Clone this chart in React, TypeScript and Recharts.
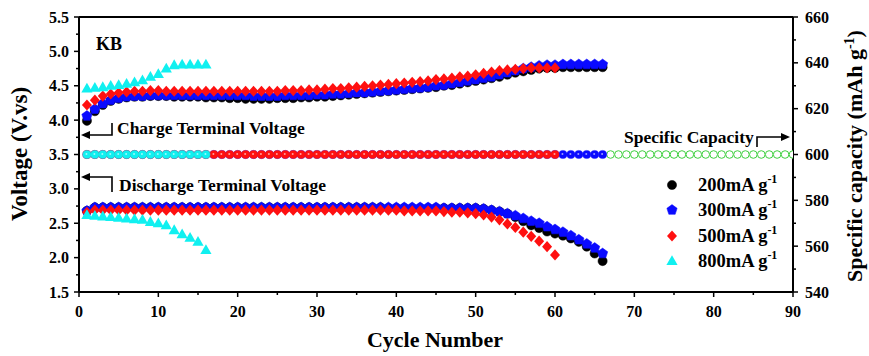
import React from 'react';
import { ScatterChart, Scatter, XAxis, YAxis, ReferenceLine, Customized } from 'recharts';

const FONT = '"Liberation Serif", "Times New Roman", Times, serif';

// ---------- ticks ----------
const xTicks = [0, 5, 10, 15, 20, 25, 30, 35, 40, 45, 50, 55, 60, 65, 70, 75, 80, 85, 90];
const voltTicks = [1.5, 1.75, 2.0, 2.25, 2.5, 2.75, 3.0, 3.25, 3.5, 3.75, 4.0, 4.25, 4.5, 4.75, 5.0, 5.25, 5.5];
const capTicks = [540, 550, 560, 570, 580, 590, 600, 610, 620, 630, 640, 650, 660];

// ---------- legend ----------
const rateLabels = ['200mA g', '300mA g', '500mA g', '800mA g'];
const rateColors = ['#000000', '#0a0aff', '#ff1010', '#10f0f0'];

// ---------- charge terminal voltage (V), cycle 1.. ----------
const charge200 = [
  3.99, 4.13, 4.22, 4.28, 4.31, 4.33, 4.34, 4.34, 4.35, 4.35,
  4.35, 4.34, 4.34, 4.34, 4.34, 4.33, 4.33, 4.33, 4.32, 4.32,
  4.31, 4.31, 4.31, 4.31, 4.32, 4.32, 4.32, 4.33, 4.33, 4.34,
  4.34, 4.35, 4.36, 4.37, 4.38, 4.39, 4.40, 4.41, 4.42, 4.43,
  4.44, 4.45, 4.46, 4.47, 4.48, 4.50, 4.51, 4.53, 4.55, 4.57,
  4.59, 4.61, 4.63, 4.66, 4.69, 4.71, 4.73, 4.75, 4.76, 4.76,
  4.77, 4.77, 4.77, 4.77, 4.77, 4.77,
];
const charge300 = [
  4.06, 4.16, 4.24, 4.29, 4.32, 4.34, 4.35, 4.35, 4.36, 4.36,
  4.36, 4.36, 4.36, 4.36, 4.36, 4.36, 4.36, 4.36, 4.36, 4.36,
  4.36, 4.35, 4.35, 4.35, 4.35, 4.36, 4.36, 4.36, 4.36, 4.37,
  4.37, 4.38, 4.38, 4.39, 4.40, 4.40, 4.41, 4.42, 4.43, 4.44,
  4.45, 4.46, 4.47, 4.48, 4.50, 4.51, 4.53, 4.55, 4.57, 4.59,
  4.61, 4.63, 4.66, 4.69, 4.72, 4.75, 4.77, 4.79, 4.80, 4.80,
  4.81, 4.81, 4.81, 4.81, 4.81, 4.81,
];
const charge500 = [
  4.22, 4.29, 4.35, 4.38, 4.40, 4.41, 4.42, 4.42, 4.43, 4.43,
  4.42, 4.42, 4.42, 4.42, 4.42, 4.42, 4.42, 4.42, 4.42, 4.42,
  4.42, 4.42, 4.42, 4.42, 4.42, 4.43, 4.43, 4.43, 4.44, 4.44,
  4.45, 4.46, 4.46, 4.47, 4.48, 4.49, 4.50, 4.51, 4.52, 4.53,
  4.54, 4.55, 4.56, 4.57, 4.59, 4.60, 4.61, 4.63, 4.64, 4.66,
  4.68, 4.70, 4.72, 4.73, 4.74, 4.75, 4.76, 4.76, 4.76, 4.76,
];
const charge800 = [
  4.46, 4.47, 4.48, 4.50, 4.51, 4.53, 4.55, 4.58, 4.63, 4.67,
  4.75, 4.80, 4.81, 4.81, 4.81, 4.81,
];

// ---------- discharge terminal voltage (V) ----------
const discharge200 = [
  2.68, 2.73, 2.73, 2.73, 2.73, 2.73, 2.73, 2.73, 2.73, 2.73,
  2.73, 2.73, 2.73, 2.73, 2.73, 2.73, 2.73, 2.73, 2.73, 2.73,
  2.73, 2.73, 2.73, 2.73, 2.73, 2.73, 2.73, 2.73, 2.73, 2.73,
  2.73, 2.73, 2.73, 2.73, 2.73, 2.73, 2.73, 2.73, 2.72, 2.72,
  2.72, 2.72, 2.72, 2.72, 2.72, 2.72, 2.72, 2.72, 2.72, 2.72,
  2.71, 2.69, 2.67, 2.64, 2.59, 2.53, 2.47, 2.43, 2.38, 2.35,
  2.32, 2.28, 2.23, 2.16, 2.06, 1.95,
];
const discharge300 = [
  2.68, 2.73, 2.73, 2.73, 2.73, 2.73, 2.73, 2.73, 2.73, 2.73,
  2.73, 2.73, 2.73, 2.73, 2.73, 2.73, 2.73, 2.73, 2.73, 2.73,
  2.73, 2.73, 2.73, 2.73, 2.73, 2.73, 2.73, 2.73, 2.73, 2.73,
  2.73, 2.73, 2.73, 2.73, 2.73, 2.73, 2.73, 2.73, 2.73, 2.73,
  2.73, 2.73, 2.73, 2.73, 2.73, 2.72, 2.72, 2.72, 2.72, 2.72,
  2.71, 2.69, 2.67, 2.64, 2.61, 2.57, 2.53, 2.50, 2.45, 2.41,
  2.37, 2.32, 2.26, 2.20, 2.14, 2.06,
];
const discharge500 = [
  2.66, 2.69, 2.69, 2.69, 2.69, 2.69, 2.69, 2.69, 2.69, 2.69,
  2.69, 2.69, 2.69, 2.69, 2.69, 2.69, 2.69, 2.69, 2.69, 2.69,
  2.69, 2.69, 2.69, 2.69, 2.69, 2.69, 2.69, 2.69, 2.69, 2.69,
  2.69, 2.69, 2.69, 2.69, 2.69, 2.69, 2.69, 2.69, 2.69, 2.69,
  2.68, 2.68, 2.68, 2.68, 2.68, 2.67, 2.66, 2.66, 2.65, 2.64,
  2.62, 2.59, 2.55, 2.49, 2.44, 2.37, 2.31, 2.24, 2.16, 2.04,
];
const discharge800 = [
  2.62, 2.61, 2.60, 2.59, 2.58, 2.57, 2.56, 2.55, 2.52, 2.50,
  2.47, 2.40, 2.34, 2.29, 2.23, 2.11,
];

// ---------- specific capacity (mAh g-1) ----------
const capacity300 = [
  600, 600, 600, 600, 600, 600, 600, 600, 600, 600, 600, 600, 600, 600, 600, 600, 600, 600, 600, 600, 600, 600,
  600, 600, 600, 600, 600, 600, 600, 600, 600, 600, 600, 600, 600, 600, 600, 600, 600, 600, 600, 600, 600, 600,
  600, 600, 600, 600, 600, 600, 600, 600, 600, 600, 600, 600, 600, 600, 600, 600, 600, 600, 600, 600, 600, 600,
];
const capacity500 = [
  600, 600, 600, 600, 600, 600, 600, 600, 600, 600, 600, 600, 600, 600, 600, 600, 600, 600, 600, 600,
  600, 600, 600, 600, 600, 600, 600, 600, 600, 600, 600, 600, 600, 600, 600, 600, 600, 600, 600, 600,
  600, 600, 600, 600, 600, 600, 600, 600, 600, 600, 600, 600, 600, 600, 600, 600, 600, 600, 600, 600,
];
const capacity800 = [600, 600, 600, 600, 600, 600, 600, 600, 600, 600, 600, 600, 600, 600, 600, 600];
const capacityTail = [600, 600, 600, 600, 600, 600, 600, 600, 600, 600, 600, 600, 600, 600, 600, 600, 600, 600, 600, 600, 600, 600, 600, 600];
const capacityTailStart = 67;

const toPoints = (vals: number[], start = 1) => vals.map((v, i) => ({ cycle: i + start, value: v }));

// ---------- marker shapes ----------
const Circle = (color: string) => (p: any) => (
  <circle cx={p.cx} cy={p.cy} r={4.6} fill={color} stroke={color} strokeWidth={0.5} />
);
const Pentagon = (color: string) => (p: any) => {
  const r = 5.4;
  const pts = [0, 1, 2, 3, 4]
    .map((k) => {
      const a = (-90 + 72 * k) * (Math.PI / 180);
      return `${p.cx + r * Math.cos(a)},${p.cy + r * Math.sin(a)}`;
    })
    .join(' ');
  return <polygon points={pts} fill={color} stroke={color} strokeWidth={0.5} />;
};
const Diamond = (color: string) => (p: any) => (
  <polygon
    points={`${p.cx},${p.cy - 5.6} ${p.cx + 5},${p.cy} ${p.cx},${p.cy + 5.6} ${p.cx - 5},${p.cy}`}
    fill={color}
  />
);
const Triangle = (color: string) => (p: any) => (
  <polygon
    points={`${p.cx},${p.cy - 5.8} ${p.cx + 5.6},${p.cy + 4} ${p.cx - 5.6},${p.cy + 4}`}
    fill={color}
  />
);
const CapDot = (color: string) => (p: any) => (
  <g>
    <circle cx={p.cx} cy={p.cy} r={4.1} fill={color} stroke={color} strokeWidth={0.4} />
    <circle cx={p.cx - 0.5} cy={p.cy - 0.5} r={1.0} fill="#ffffff" opacity={0.6} />
  </g>
);
const HollowDot = (color: string) => (p: any) => (
  <circle cx={p.cx} cy={p.cy} r={3.8} fill="#ffffff" stroke={color} strokeWidth={1} />
);

// ---------- ticks ----------
const tickText = { fontFamily: FONT, fontWeight: 'bold' as const, fontSize: 16, fill: '#000' };

const XTick = (props: any) => {
  const { x, y, payload } = props;
  const v = payload.value;
  const major = v % 10 === 0;
  return (
    <g>
      <line x1={x} x2={x} y1={y} y2={y + (major ? 5 : 3)} stroke="#000" strokeWidth={1.5} />
      {major && (
        <text x={x} y={y + 25} textAnchor="middle" {...tickText}>
          {v}
        </text>
      )}
    </g>
  );
};

const LeftTick = (props: any) => {
  const { x, y, payload } = props;
  const v = payload.value;
  const major = Math.abs(v * 2 - Math.round(v * 2)) < 1e-6;
  return (
    <g>
      <line x1={x} x2={x - (major ? 5 : 3)} y1={y} y2={y} stroke="#000" strokeWidth={1.5} />
      {major && (
        <text x={x - 10} y={y + 5.5} textAnchor="end" {...tickText}>
          {v.toFixed(1)}
        </text>
      )}
    </g>
  );
};

const RightTick = (props: any) => {
  const { x, y, payload } = props;
  const v = payload.value;
  const major = v % 20 === 0;
  return (
    <g>
      <line x1={x} x2={x + (major ? 5 : 3)} y1={y} y2={y} stroke="#000" strokeWidth={1.5} />
      {major && (
        <text x={x + 12} y={y + 5.5} textAnchor="start" {...tickText}>
          {v}
        </text>
      )}
    </g>
  );
};

// ---------- annotations, titles and legend ----------
const bold = { fontFamily: FONT, fontWeight: 'bold' as const, fill: '#000' };

const Annotations = () => (
  <g>
    <text x={96} y={50} fontSize={18} {...bold}>KB</text>

    {/* Charge terminal voltage */}
    <polyline points="112,123 112,135 89,135" fill="none" stroke="#000" strokeWidth={1.6} />
    <polygon points="81,135 90,131 90,139" fill="#000" />
    <text x={117} y={134} fontSize={17.5} {...bold}>Charge Terminal Voltage</text>

    {/* Discharge terminal voltage */}
    <polyline points="112,192 112,177 89,177" fill="none" stroke="#000" strokeWidth={1.6} />
    <polygon points="81,177 90,173 90,181" fill="#000" />
    <text x={119} y={191} fontSize={17.5} {...bold}>Discharge Terminal Voltage</text>

    {/* Specific capacity */}
    <text x={624} y={143} fontSize={17.5} {...bold}>Specific Capacity</text>
    <polyline points="757,147 757,137 782,137" fill="none" stroke="#000" strokeWidth={1.6} />
    <polygon points="790,137 781,133 781,141" fill="#000" />

    {/* Axis titles */}
    <text x={435} y={347} textAnchor="middle" fontSize={22} {...bold}>Cycle Number</text>
    <text x={27} y={154} textAnchor="middle" fontSize={23} transform="rotate(-90, 27, 154)" {...bold}>
      Voltage (V.vs)
    </text>
    <text x={862} y={156} textAnchor="middle" fontSize={22} transform="rotate(-90, 862, 156)" {...bold}>
      Specific capacity (mAh g<tspan dy={-8} fontSize={14}>-1</tspan><tspan dy={8}>)</tspan>
    </text>

    {/* Legend */}
    {rateLabels.map((lab, i) => {
      const cy = [185, 210, 236, 261][i];
      const cx = 672;
      const c = rateColors[i];
      const marker =
        i === 0 ? Circle(c)({ cx, cy }) : i === 1 ? Pentagon(c)({ cx, cy }) : i === 2 ? Diamond(c)({ cx, cy }) : Triangle(c)({ cx, cy });
      return (
        <g key={lab}>
          {marker}
          <text x={698} y={cy + 6} fontSize={18.5} {...bold}>
            {lab}
            <tspan dy={-8} fontSize={12}>-1</tspan>
          </text>
        </g>
      );
    })}
  </g>
);

export default function App() {
  return (
    <div style={{ position: 'absolute', left: 0, top: 0, width: 869, height: 356, background: '#fff' }}>
      <ScatterChart width={869} height={356} margin={{ top: 17, right: 0, bottom: 0, left: 0 }}>
        <XAxis
          type="number"
          dataKey="cycle"
          domain={[0, 90]}
          ticks={xTicks}
          interval={0}
          height={64}
          tickSize={0}
          tickMargin={0}
          tick={XTick}
          tickLine={false}
          axisLine={{ stroke: '#000', strokeWidth: 2 }}
          allowDataOverflow
        />
        <YAxis
          yAxisId="left"
          type="number"
          dataKey="value"
          domain={[1.5, 5.5]}
          ticks={voltTicks}
          interval={0}
          width={79}
          tickSize={0}
          tickMargin={0}
          tick={LeftTick}
          tickLine={false}
          axisLine={{ stroke: '#000', strokeWidth: 2 }}
          allowDataOverflow
        />
        <YAxis
          yAxisId="right"
          orientation="right"
          type="number"
          dataKey="value"
          domain={[540, 660]}
          ticks={capTicks}
          interval={0}
          width={76}
          tickSize={0}
          tickMargin={0}
          tick={RightTick}
          tickLine={false}
          axisLine={{ stroke: '#000', strokeWidth: 2 }}
          allowDataOverflow
        />
        <ReferenceLine yAxisId="left" y={5.5} stroke="#000" strokeWidth={2} />

        {/* capacity (right axis) */}
        <Scatter yAxisId="right" data={toPoints(capacityTail, capacityTailStart)} shape={HollowDot('#3fd03f')} isAnimationActive={false} legendType="none" />
        <Scatter yAxisId="right" data={toPoints(capacity300)} shape={CapDot(rateColors[1])} isAnimationActive={false} legendType="none" />
        <Scatter yAxisId="right" data={toPoints(capacity500)} shape={CapDot(rateColors[2])} isAnimationActive={false} legendType="none" />
        <Scatter yAxisId="right" data={toPoints(capacity800)} shape={CapDot(rateColors[3])} isAnimationActive={false} legendType="none" />

        {/* charge / discharge terminal voltages (left axis) */}
        <Scatter yAxisId="left" data={toPoints(charge200)} shape={Circle(rateColors[0])} isAnimationActive={false} />
        <Scatter yAxisId="left" data={toPoints(discharge200)} shape={Circle(rateColors[0])} isAnimationActive={false} />
        <Scatter yAxisId="left" data={toPoints(charge300)} shape={Pentagon(rateColors[1])} isAnimationActive={false} />
        <Scatter yAxisId="left" data={toPoints(discharge300)} shape={Pentagon(rateColors[1])} isAnimationActive={false} />
        <Scatter yAxisId="left" data={toPoints(charge500)} shape={Diamond(rateColors[2])} isAnimationActive={false} />
        <Scatter yAxisId="left" data={toPoints(discharge500)} shape={Diamond(rateColors[2])} isAnimationActive={false} />
        <Scatter yAxisId="left" data={toPoints(charge800)} shape={Triangle(rateColors[3])} isAnimationActive={false} />
        <Scatter yAxisId="left" data={toPoints(discharge800)} shape={Triangle(rateColors[3])} isAnimationActive={false} />

        <Customized component={Annotations} />
      </ScatterChart>
    </div>
  );
}
